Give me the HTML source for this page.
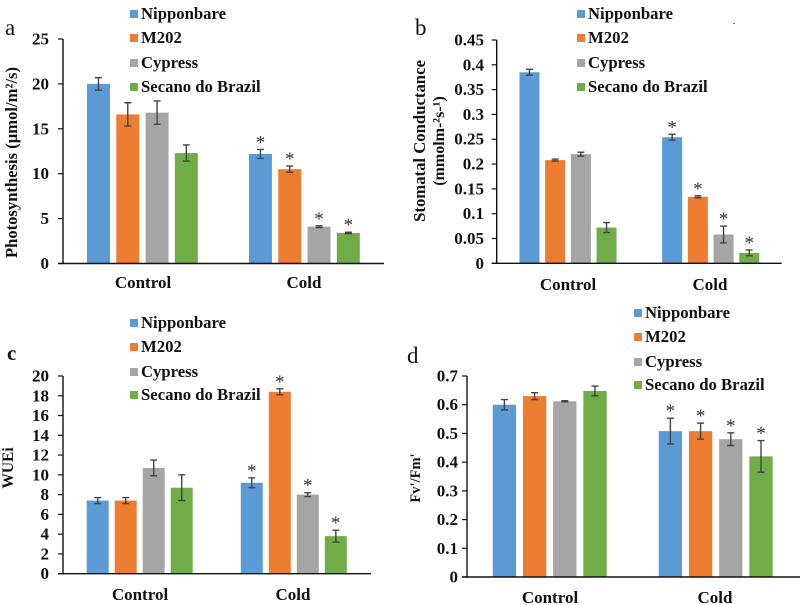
<!DOCTYPE html>
<html lang="en">
<head>
<meta charset="utf-8">
<title>Rice cultivar physiology under control and cold</title>
<style>
html,body{margin:0;padding:0;background:#fff;}
svg{display:block;font-family:"Liberation Serif",serif;filter:blur(0.35px);}
</style>
</head>
<body>
<svg id="figure" xmlns="http://www.w3.org/2000/svg" width="800" height="605" viewBox="0 0 800 605">
<rect x="0" y="0" width="800" height="605" fill="#fff"/>
<rect x="733" y="23" width="2" height="1" fill="#777"/>
</svg>
<script>
var categories = ['Control', 'Cold'];
var cultivars = ['Nipponbare', 'M202', 'Cypress', 'Secano do Brazil'];
var photosynthesisValues = [[20, 16.6, 16.8, 12.3], [12.2, 10.5, 4.1, 3.4]];
var photosynthesisErrors = [[0.7, 1.3, 1.3, 0.9], [0.5, 0.35, 0.1, 0.08]];
var photosynthesisTicks = ['0', '5', '10', '15', '20', '25'];
var conductanceValues = [[0.385, 0.208, 0.22, 0.072], [0.254, 0.134, 0.058, 0.021]];
var conductanceErrors = [[0.006, 0.002, 0.004, 0.01], [0.006, 0.002, 0.017, 0.006]];
var conductanceTicks = ['0', '0.05', '0.1', '0.15', '0.2', '0.25', '0.3', '0.35', '0.4', '0.45'];
var wueValues = [[7.4, 7.4, 10.7, 8.7], [9.2, 18.4, 8, 3.8]];
var wueErrors = [[0.3, 0.3, 0.8, 1.3], [0.5, 0.3, 0.2, 0.6]];
var wueTicks = ['0', '2', '4', '6', '8', '10', '12', '14', '16', '18', '20'];
var fvfmValues = [[0.6, 0.63, 0.612, 0.648], [0.508, 0.508, 0.48, 0.42]];
var fvfmErrors = [[0.018, 0.012, 0.002, 0.017], [0.045, 0.028, 0.022, 0.055]];
var fvfmTicks = ['0', '0.1', '0.2', '0.3', '0.4', '0.5', '0.6', '0.7'];

var colors = ['#5B9BD5', '#ED7D31', '#A5A5A5', '#70AD47'];
var svg = document.getElementById('figure');
var NS = 'http://www.w3.org/2000/svg';

function make(parent, tag, attrs, txt) {
  var el = document.createElementNS(NS, tag);
  for (var k in attrs) el.setAttribute(k, attrs[k]);
  if (txt !== undefined) el.textContent = txt;
  parent.appendChild(el);
  return el;
}
function slug(s) { return s.toLowerCase().replace(/[^a-z0-9]+/g, '-'); }

function drawPanel(p) {
  var g = make(svg, 'g', {});
  
  

  var maxV = parseFloat(p.ticks[p.ticks.length - 1]);
  function yScale(v) { return p.base - (v / maxV) * (p.base - p.top); }
  function xScale(groupIndex, barIndex) { return p.centers[groupIndex] + (barIndex - 1.5) * p.step; }

  // bars, error bars, significance marks
  p.values.forEach(function (vals, gi) {
    vals.forEach(function (v, bi) {
      var cx = xScale(gi, bi);
      var bar = make(g, 'rect', { x: cx - p.barW / 2, y: yScale(v), width: p.barW, height: p.base - yScale(v), fill: colors[bi] });
      
      

      var e = p.errors[gi][bi];
      var yHi = yScale(v + e), yLo = yScale(v - e);
      var err = make(g, 'path', {
        d: 'M' + cx + ' ' + yHi + 'V' + yLo + 'M' + (cx - 3.5) + ' ' + yHi + 'H' + (cx + 3.5) + 'M' + (cx - 3.5) + ' ' + yLo + 'H' + (cx + 3.5),
        stroke: '#444', 'stroke-width': 1.4, fill: 'none'
      });
      
      

      if (gi === 1) {
        var star = make(g, 'text', { x: cx, y: yHi - 1, 'text-anchor': 'middle', 'font-size': 19, fill: '#333' }, '*');
        
        
      }
    });
  });

  // axes
  var yAxis = make(g, 'line', { x1: p.axisX, x2: p.axisX, y1: p.top, y2: p.base, stroke: '#111', 'stroke-width': 1.4 });
  
  
  var xAxis = make(g, 'line', { x1: p.axisX - 5, x2: p.axisEnd, y1: p.base, y2: p.base, stroke: '#111', 'stroke-width': 1.4 });
  
  

  p.ticks.forEach(function (t) {
    var y = yScale(parseFloat(t));
    var tick = make(g, 'line', { x1: p.axisX - 5, x2: p.axisX, y1: y, y2: y, stroke: '#111', 'stroke-width': 1.2 });
    
    
    var lab = make(g, 'text', { x: p.tickRight, y: y + 5.5, 'text-anchor': 'end', 'font-size': 17, 'font-weight': 'bold', fill: '#111' }, t);
    
    
  });

  categories.forEach(function (c, i) {
    var lab = make(g, 'text', { x: p.catX[i], y: p.catY, 'text-anchor': 'middle', 'font-size': 17, 'font-weight': 'bold', fill: '#111' }, c);
    
    
  });

  // y-axis title lines
  p.titles.forEach(function (t) {
    var lab = make(g, 'text', { transform: 'translate(' + t.x + ' ' + t.y + ') rotate(-90)', 'text-anchor': 'middle', 'font-size': t.size, 'font-weight': 'bold', fill: '#111' }, t.text);
    
    
  });

  // panel letter
  var letter = make(g, 'text', { x: p.letterX, y: p.letterY, 'font-size': p.id === 'c' ? 21 : 23, 'font-weight': p.id === 'c' ? 'bold' : 'normal', fill: '#111' }, p.id);
  
  

  // legend
  cultivars.forEach(function (name, i) {
    var entry = make(g, 'g', {});
    
    
    var sw = make(entry, 'rect', { x: p.legendX, y: p.legendYs[i] - 9, width: 8, height: 8, fill: colors[i] });
    
    
    var lt = make(entry, 'text', { x: p.legendX + 11, y: p.legendYs[i], 'font-size': 16.7, 'font-weight': 'bold', fill: '#111' }, name);
    
    
  });
}

drawPanel({
  id: 'a', values: photosynthesisValues, errors: photosynthesisErrors, ticks: photosynthesisTicks,
  axisX: 63, axisEnd: 384, top: 39, base: 263.5, centers: [142.4, 304.4], step: 29.3, barW: 23, tickRight: 49,
  catX: [143, 304], catY: 288, letterX: 5, letterY: 35, legendX: 130, legendYs: [19, 43, 68, 92],
  titles: [{ x: 17, y: 162.5, size: 16.6, text: 'Photosynthesis (µmol/m²/s)' }]
});
drawPanel({
  id: 'b', values: conductanceValues, errors: conductanceErrors, ticks: conductanceTicks,
  axisX: 496.7, axisEnd: 781.7, top: 40, base: 263.3, centers: [568, 710.7], step: 25.7, barW: 20, tickRight: 484,
  catX: [568, 710], catY: 290, letterX: 415, letterY: 35, legendX: 577, legendYs: [19, 43, 68, 92],
  titles: [
    { x: 425, y: 141, size: 16.7, text: 'Stomatal Conductance' },
    { x: 444, y: 141, size: 16, text: '(mmolm-²s-¹)' }
  ]
});
drawPanel({
  id: 'c', values: wueValues, errors: wueErrors, ticks: wueTicks,
  axisX: 63, axisEnd: 371, top: 376, base: 573.7, centers: [139.7, 293.8], step: 28, barW: 22, tickRight: 49,
  catX: [140, 293], catY: 600, letterX: 7, letterY: 360, legendX: 130, legendYs: [328, 352, 377, 400],
  titles: [{ x: 13, y: 468, size: 15.5, text: 'WUEi' }]
});
drawPanel({
  id: 'd', values: fvfmValues, errors: fvfmErrors, ticks: fvfmTicks,
  axisX: 467, axisEnd: 800, top: 376, base: 577, centers: [549.7, 715.7], step: 30.2, barW: 23.3, tickRight: 458,
  catX: [550, 715], catY: 603, letterX: 407, letterY: 363, legendX: 634, legendYs: [318, 342, 367, 390],
  titles: [{ x: 420, y: 478, size: 14.5, text: "Fv'/Fm'" }]
});
</script>
</body>
</html>
